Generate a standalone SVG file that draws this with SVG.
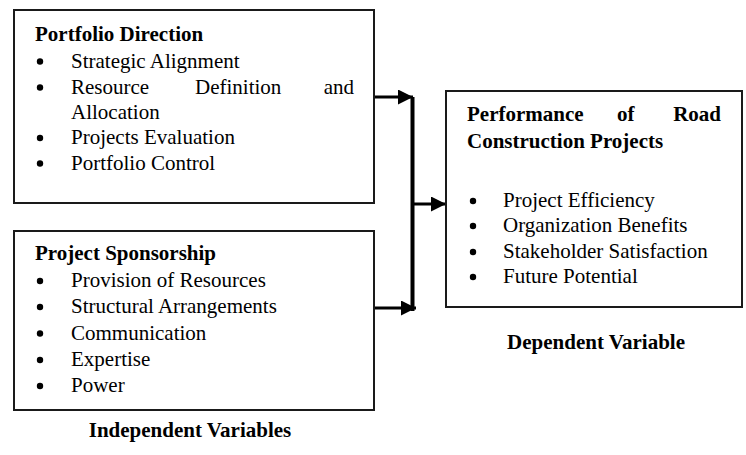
<svg xmlns="http://www.w3.org/2000/svg" width="746" height="455" viewBox="0 0 746 455">
<style>
.box{fill:#fff;stroke:#1a1a1a;stroke-width:2}
text{font-size:21px;fill:#000}
.b{font-weight:bold}
.dot{fill:#000}
.c{fill:none;stroke:#000;stroke-width:3}
.v{fill:none;stroke:#000;stroke-width:4}
</style>
<defs>
<marker id="ah" markerUnits="userSpaceOnUse" markerWidth="16" markerHeight="15" refX="15" refY="7.5" orient="auto">
<path d="M0,0 L15,7.5 L0,15 Z" fill="#000"/>
</marker>
</defs>
<rect width="746" height="455" fill="#fff"/>
<g id="connectors">
<path class="c" d="M374,97 H413" marker-end="url(#ah)"/>
<path class="c" d="M374,308 H416" marker-end="url(#ah)"/>
<path class="v" d="M412.5,97 V311"/>
<path class="c" d="M412,204 H446" marker-end="url(#ah)"/>
</g>
<g id="portfolio-direction">
<rect class="box" x="14" y="10" width="360" height="193"/>
<text font-family="Liberation Serif" class="b" x="35" y="41">Portfolio Direction</text>
<circle class="dot" cx="40" cy="61.5" r="3.2"/><text font-family="Liberation Serif" x="71" y="67.5">Strategic Alignment</text>
<circle class="dot" cx="40" cy="87.5" r="3.2"/><text font-family="Liberation Serif" x="71" y="93.5">Resource</text><text font-family="Liberation Serif" x="195" y="93.5">Definition</text><text font-family="Liberation Serif" x="354" y="93.5" text-anchor="end">and</text>
<text font-family="Liberation Serif" x="71" y="118.5">Allocation</text>
<circle class="dot" cx="40" cy="138" r="3.2"/><text font-family="Liberation Serif" x="71" y="144">Projects Evaluation</text>
<circle class="dot" cx="40" cy="163.5" r="3.2"/><text font-family="Liberation Serif" x="71" y="169.5">Portfolio Control</text>
</g>
<g id="project-sponsorship">
<rect class="box" x="14" y="231" width="360" height="179"/>
<text font-family="Liberation Serif" class="b" x="35" y="260">Project Sponsorship</text>
<circle class="dot" cx="40" cy="281" r="3.2"/><text font-family="Liberation Serif" x="71" y="287">Provision of Resources</text>
<circle class="dot" cx="40" cy="307" r="3.2"/><text font-family="Liberation Serif" x="71" y="313">Structural Arrangements</text>
<circle class="dot" cx="40" cy="333.5" r="3.2"/><text font-family="Liberation Serif" x="71" y="339.5">Communication</text>
<circle class="dot" cx="40" cy="360" r="3.2"/><text font-family="Liberation Serif" x="71" y="366">Expertise</text>
<circle class="dot" cx="40" cy="386" r="3.2"/><text font-family="Liberation Serif" x="71" y="392">Power</text>
</g>
<g id="performance">
<rect class="box" x="446" y="91" width="296" height="216"/>
<text font-family="Liberation Serif" class="b" x="467" y="121">Performance</text><text font-family="Liberation Serif" class="b" x="617" y="121">of</text><text font-family="Liberation Serif" class="b" x="721" y="121" text-anchor="end">Road</text>
<text font-family="Liberation Serif" class="b" x="467" y="148">Construction Projects</text>
<circle class="dot" cx="473" cy="201" r="3.2"/><text font-family="Liberation Serif" x="503" y="207">Project Efficiency</text>
<circle class="dot" cx="473" cy="226" r="3.2"/><text font-family="Liberation Serif" x="503" y="232">Organization Benefits</text>
<circle class="dot" cx="473" cy="252" r="3.2"/><text font-family="Liberation Serif" x="503" y="258">Stakeholder Satisfaction</text>
<circle class="dot" cx="473" cy="277" r="3.2"/><text font-family="Liberation Serif" x="503" y="283">Future Potential</text>
</g>
<g id="labels">
<text font-family="Liberation Serif" class="b" x="190" y="437" text-anchor="middle">Independent Variables</text>
<text font-family="Liberation Serif" class="b" x="596" y="349" text-anchor="middle">Dependent Variable</text>
</g>
</svg>
